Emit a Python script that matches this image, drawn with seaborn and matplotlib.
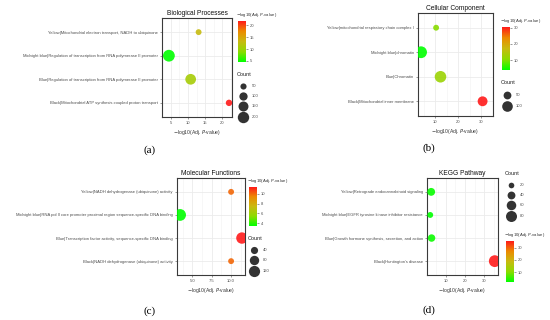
import numpy as np
import pandas as pd
import matplotlib
matplotlib.use("Agg")
import matplotlib.pyplot as plt
import seaborn as sns
from matplotlib.colors import LinearSegmentedColormap, Normalize
from matplotlib.cm import ScalarMappable

# ---- data ----
bp_terms = ["Yellow|Mitochondrial electron transport, NADH to ubiquinone",
            "Midnight blue|Regulation of transcription from RNA polymerase II promoter",
            "Blue|Regulation of transcription from RNA polymerase II promoter",
            "Black|Mitochondrial ATP synthesis coupled proton transport"]
bp_logp = [13.1, 4.5, 10.8, 21.9]
bp_count = [45, 215, 175, 55]

cc_terms = ["Yellow|mitochondrial respiratory chain complex I",
            "Midnight blue|chromatin",
            "Blue|Chromatin",
            "Black|Mitochondrial inner membrane"]
cc_logp = [10.4, 3.9, 12.3, 30.5]
cc_count = [25, 125, 120, 85]

mf_terms = ["Yellow|NADH dehydrogenase (ubiquinone) activity",
            "Midnight blue|RNA pol II core promoter proximal region sequence-specific DNA binding",
            "Blue|Transcription factor activity, sequence-specific DNA binding",
            "Black|NADH dehydrogenase (ubiquinone) activity"]
mf_logp = [10.0, 3.4, 11.4, 10.0]
mf_count = [22, 135, 125, 22]

kegg_terms = ["Yellow|Retrograde endocannabinoid signaling",
              "Midnight blue|EGFR tyrosine kinase inhibitor resistance",
              "Blue|Growth hormone synthesis, secretion, and action",
              "Black|Huntington's disease"]
kegg_logp = [2.4, 1.9, 2.6, 35.4]
kegg_count = [40, 22, 36, 92]

W, H = 550, 320
plt.rcParams['font.family'] = ['Liberation Sans', 'DejaVu Sans']
fig = plt.figure(figsize=(W / 100, H / 100), dpi=100)
fig.patch.set_facecolor('white')

cmap = LinearSegmentedColormap.from_list(
    'gr', ['#00FF00', '#8CDB00', '#C8BA10', '#EC8A00', '#FF1A1A'])

GREY = '#4D4D4D'
XLAB = r'$-$log10(Adj. $\it{P}$-value)'
S_MIN, S_MAX = 18, 72


def px_axes(x0, y0, x1, y1):
    return fig.add_axes([x0 / W, 1 - y1 / H, (x1 - x0) / W, (y1 - y0) / H])


def size_of(v, lo, hi):
    return S_MIN + (v - lo) / (hi - lo) * (S_MAX - S_MIN)


def draw_panel(terms, logp, count, title, box, xticks, xfmt,
               cbar_box, cbar_ticks, cnt_ticks, cnt_box, tag, tag_xy):
    df = pd.DataFrame({'term': terms, 'logp': logp, 'count': count})
    ax = px_axes(*box)
    lo, hi = min(logp), max(logp)
    norm = Normalize(lo, hi)
    clo, chi = min(count), max(count)
    sns.scatterplot(data=df, x='logp', y='term', hue='logp', size='count',
                    palette=cmap, hue_norm=norm, sizes=(S_MIN, S_MAX),
                    size_norm=(clo, chi), legend=False, linewidth=0,
                    alpha=0.9, ax=ax, zorder=3)
    pad = 0.05 * (hi - lo)
    ax.set_xlim(lo - pad, hi + pad)
    ax.set_ylim(len(terms) - 0.4, -0.6)
    ax.set_xticks(xticks)
    ax.set_xticklabels([xfmt.format(t) for t in xticks])
    step = xticks[1] - xticks[0]
    minor = [xticks[0] - step / 2] + [t + step / 2 for t in xticks]
    ax.set_xticks(minor, minor=True)
    ax.grid(True, which='major', color='#EBEBEB', lw=0.6)
    ax.grid(True, which='minor', axis='x', color='#F2F2F2', lw=0.4)
    ax.set_axisbelow(True)
    ax.tick_params(which='major', labelsize=3.0, colors=GREY, length=1.5,
                   width=0.4, pad=1.5)
    ax.tick_params(which='minor', length=0)
    ax.set_xlabel(XLAB, fontsize=3.6, color='#333333', labelpad=2)
    ax.set_ylabel('')
    ax.set_title(title, fontsize=4.8, color='#111111', pad=2.5)
    for sp in ax.spines.values():
        sp.set_color('#3A3A3A')
        sp.set_linewidth(0.8)

    # colour bar
    cax = px_axes(*cbar_box)
    cb = fig.colorbar(ScalarMappable(norm=norm, cmap=cmap), cax=cax)
    cb.outline.set_visible(False)
    cb.set_ticks(cbar_ticks)
    cax.tick_params(labelsize=3.0, colors=GREY, length=1.2, width=0.4, pad=1.5)
    cax.text(-0.2, 1.04, XLAB, transform=cax.transAxes, fontsize=3.1,
             color='#333333', ha='left', va='bottom')

    # size legend
    lax = px_axes(*cnt_box)
    lax.set_axis_off()
    lax.set_xlim(0, 1)
    lax.set_ylim(len(cnt_ticks) - 0.5, -1.3)
    for i, c in enumerate(cnt_ticks):
        lax.scatter(0.22, i, s=size_of(c, clo, chi), color='#333333',
                    linewidth=0, clip_on=False)
        lax.text(0.58, i, str(c), fontsize=3.0, color=GREY, va='center')
    lax.text(0.0, -1.1, 'Count', fontsize=4.0, color='#222222', va='center')

    fig.text(tag_xy[0] / W, 1 - tag_xy[1] / H, tag, fontsize=8,
             family=['Liberation Serif', 'DejaVu Serif'], ha='center',
             va='center')


draw_panel(bp_terms, bp_logp, bp_count, 'Biological Processes',
           (162, 18, 232, 117), [5, 10, 15, 20], '{:g}',
           (238, 21, 246, 62), [5, 10, 15, 20], [50, 100, 150, 200],
           (237, 72, 262, 122), '(a)', (150, 150))

draw_panel(cc_terms, cc_logp, cc_count, 'Cellular Component',
           (418, 13, 493, 116), [10, 20, 30], '{:g}',
           (502, 27, 510, 70), [10, 20, 30], [50, 100],
           (501, 80, 526, 112), '(b)', (429, 148))

draw_panel(mf_terms, mf_logp, mf_count, 'Molecular Functions',
           (177, 178, 245, 275), [5.0, 7.5, 10.0], '{:.1f}',
           (249, 187, 257, 226), [4, 6, 8, 10], [40, 80, 120],
           (248, 236, 273, 276), '(c)', (150, 311))

draw_panel(kegg_terms, kegg_logp, kegg_count, 'KEGG Pathway',
           (427, 178, 498, 275), [10, 20, 30], '{:g}',
           (506, 241, 514, 282), [10, 20, 30], [20, 40, 60, 80],
           (505, 171, 530, 221), '(d)', (429, 310))

fig.savefig('out.png', dpi=100, facecolor='white')
